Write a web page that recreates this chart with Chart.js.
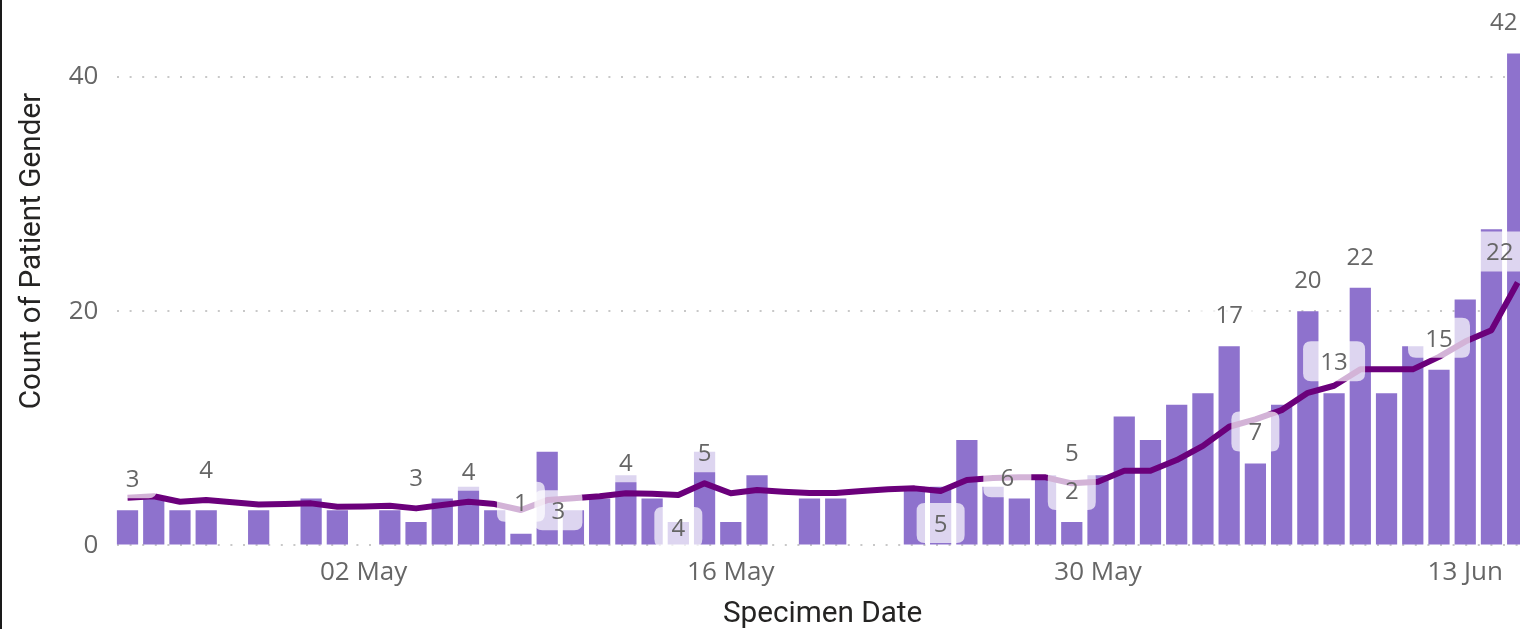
<!DOCTYPE html>
<html>
<head>
<meta charset="utf-8">
<script src="https://cdn.jsdelivr.net/npm/chart.js@4.4.0/dist/chart.umd.min.js"></script>
<style>
  html, body { margin: 0; padding: 0; background: #fff; overflow: hidden; }
  #wrap { position: absolute; left: 0; top: 0; width: 1540px; height: 629px; }
  #edge { position: absolute; left: 0; top: 0; width: 2px; height: 629px; background: #1a1a1a; }
</style>
</head>
<body>
<div id="wrap"><canvas id="combo" width="1540" height="629"></canvas></div>
<div id="edge"></div>
<script>
const days = [
  "23 Apr", "24 Apr", "25 Apr", "26 Apr", "27 Apr", "28 Apr", "29 Apr", "30 Apr",
  "01 May", "02 May", "03 May", "04 May", "05 May", "06 May", "07 May", "08 May",
  "09 May", "10 May", "11 May", "12 May", "13 May", "14 May", "15 May", "16 May",
  "17 May", "18 May", "19 May", "20 May", "21 May", "22 May", "23 May", "24 May",
  "25 May", "26 May", "27 May", "28 May", "29 May", "30 May", "31 May",
  "01 Jun", "02 Jun", "03 Jun", "04 Jun", "05 Jun", "06 Jun", "07 Jun", "08 Jun",
  "09 Jun", "10 Jun", "11 Jun", "12 Jun", "13 Jun", "14 Jun", "15 Jun"
];
// bars: count per day (null = no specimens that day)
const dailyCount = [
  3, 4, 3, 3, null, 3, null, 4, 3, null,
  3, 2, 4, 5, 3, 1, 8, 3, 4, 6,
  4, 2, 8, 2, 6, null, 4, 4, null, null,
  5, 5, 9, 5, 4, 6, 2, 6, 11, 9,
  12, 13, 17, 7, 12, 20, 13, 22, 13, 17,
  15, 21, 27, 42
];
// line: rolling average
const rollingAvg = [
  4.07, 4.2, 3.73, 3.87, 3.68, 3.5, 3.53, 3.59, 3.3, 3.33,
  3.39, 3.16, 3.45, 3.73, 3.53, 3.02, 3.87, 4.02, 4.2, 4.45,
  4.4, 4.3, 5.3, 4.45, 4.73, 4.58, 4.47, 4.47, 4.64, 4.79,
  4.87, 4.64, 5.58, 5.75, 5.81, 5.81, 5.3, 5.44, 6.37, 6.37,
  7.29, 8.5, 10.13, 10.76, 11.55, 13.03, 13.63, 15.03, 15.03, 15.03,
  16.1, 17.4, 18.38, 22.45
];
const xTickLabels = ["02 May", "16 May", "30 May", "13 Jun"];
const yTickValues = [0, 20, 40];
const yMax = 43.87;
const xTitle = "Specimen Date";
const yTitle = "Count of Patient Gender";

// which points show a data label, and where it sits
const labelSpots = [
  { series: "bar", i: 0, pos: "above", dx: 5 },
  { series: "line", i: 3, pos: "above" },
  { series: "line", i: 11, pos: "above" },
  { series: "line", i: 13, pos: "above" },
  { series: "bar", i: 15, pos: "above" },
  { series: "bar", i: 17, pos: "center", dx: -15 },
  { series: "line", i: 19, pos: "above" },
  { series: "line", i: 21, pos: "below" },
  { series: "line", i: 22, pos: "above" },
  { series: "line", i: 31, pos: "below" },
  { series: "line", i: 34, pos: "center", dx: -12 },
  { series: "line", i: 36, pos: "above" },
  { series: "bar", i: 36, pos: "above" },
  { series: "bar", i: 42, pos: "above" },
  { series: "bar", i: 43, pos: "above" },
  { series: "bar", i: 45, pos: "above" },
  { series: "bar", i: 46, pos: "above" },
  { series: "bar", i: 47, pos: "above" },
  { series: "bar", i: 50, pos: "above" },
  { series: "line", i: 53, pos: "above", dx: -18 },
  { series: "bar", i: 53, pos: "above", dx: -14 }
];

const uiFont = '"Segoe UI", "Open Sans", sans-serif';

function roundBox(c, x, y, w, h, r) {
  c.beginPath();
  c.moveTo(x + r, y);
  c.lineTo(x + w - r, y);
  c.quadraticCurveTo(x + w, y, x + w, y + r);
  c.lineTo(x + w, y + h - r);
  c.quadraticCurveTo(x + w, y + h, x + w - r, y + h);
  c.lineTo(x + r, y + h);
  c.quadraticCurveTo(x, y + h, x, y + h - r);
  c.lineTo(x, y + r);
  c.quadraticCurveTo(x, y, x + r, y);
  c.closePath();
}

const labelPlugin = {
  id: "pbiLabels",
  afterDatasetsDraw(chart) {
    const c = chart.ctx;
    const xs = chart.scales.x;
    const ys = chart.scales.y;
    c.save();
    c.font = "24px " + uiFont;
    c.textAlign = "center";
    c.textBaseline = "middle";
    labelSpots.forEach(function (s) {
      const v = s.series === "bar" ? dailyCount[s.i] : rollingAvg[s.i];
      const txt = String(Math.round(v));
      const x = xs.getPixelForValue(s.i) + (s.dx || 0);
      const py = ys.getPixelForValue(v);
      let cy = py;
      if (s.pos === "above") cy = py - (s.series === "bar" ? 32 : 31);
      if (s.pos === "below") cy = py + 32;
      const w = txt.length > 1 ? 62 : 48;
      const h = 40;
      c.fillStyle = "rgba(255,255,255,0.7)";
      roundBox(c, x - w / 2, cy - h / 2, w, h, 8);
      c.fill();
      c.fillStyle = "#666666";
      c.fillText(txt, x, cy + 2);
    });
    c.restore();
  },
  afterDraw(chart) {
    const c = chart.ctx;
    c.save();
    c.font = "29.7px Roboto";
    c.fillStyle = "#252423";
    c.textAlign = "center";
    c.textBaseline = "alphabetic";
    c.translate(40, 251);
    c.rotate(-Math.PI / 2);
    c.fillText(yTitle, 0, 0);
    c.restore();
  }
};

const ctx = document.getElementById("combo").getContext("2d");
new Chart(ctx, {
  data: {
    labels: days,
    datasets: [
      {
        type: "line",
        data: rollingAvg,
        borderColor: "#6b007b",
        borderWidth: 6,
        borderJoinStyle: "round",
        pointRadius: 0,
        tension: 0,
        order: 1
      },
      {
        type: "bar",
        data: dailyCount,
        backgroundColor: "#8e72cd",
        barPercentage: 0.81,
        categoryPercentage: 1,
        order: 2
      }
    ]
  },
  options: {
    responsive: false,
    animation: false,
    layout: { padding: { top: 0, right: 9.2, bottom: 0, left: 0 } },
    plugins: {
      legend: { display: false },
      tooltip: { enabled: false }
    },
    scales: {
      x: {
        type: "category",
        offset: true,
        grid: { display: false },
        border: { display: false },
        ticks: {
          autoSkip: false,
          maxRotation: 0,
          padding: 4,
          color: "#666666",
          font: { family: uiFont, size: 26 },
          callback: function (v, i) {
            return xTickLabels.includes(days[i]) ? days[i] : "";
          }
        },
        title: {
          display: true,
          text: xTitle,
          color: "#252423",
          font: { family: "Roboto", size: 29.7, lineHeight: 1 },
          padding: { top: 0, bottom: 0 }
        },
        afterFit: function (scale) {
          scale.height = 83.6;
        }
      },
      y: {
        min: 0,
        max: yMax,
        grid: { color: "#c8c8c8", lineWidth: 2, drawTicks: false },
        border: { display: false, dash: [2, 10.6], dashOffset: -3 },
        ticks: {
          padding: 16,
          color: "#666666",
          font: { family: uiFont, size: 26 }
        },
        afterBuildTicks: function (scale) {
          scale.ticks = yTickValues.map(function (v) { return { value: v }; });
        },
        afterFit: function (scale) {
          scale.width = 114.4;
        }
      }
    }
  },
  plugins: [labelPlugin]
});
</script>
</body>
</html>
